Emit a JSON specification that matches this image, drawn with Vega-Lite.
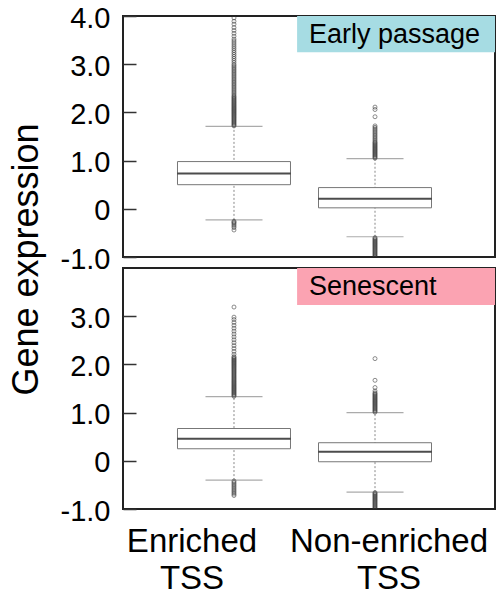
{
  "$schema": "https://vega.github.io/schema/vega-lite/v6.json",
  "padding": {"left": 6, "top": 3, "right": 4, "bottom": 0},
  "background": "white",
  "config": {"view": {"stroke": "#222", "strokeWidth": 2}, "font": "Liberation Sans",
    "axisY": {"offset": -13, "ticks": true, "tickSize": 13, "tickColor": "#333", "tickOpacity": 1, "tickWidth": 1.5, "domain": false, "grid": false, "zindex": 2,
      "labelFont": "Liberation Sans", "labelFontSize": 29, "labelColor": "black", "labelPadding": 13, "labelOffset": 2,
      "labelExpr": "datum.value == 0 ? '0' : (datum.value < 0 ? '-' + format(-datum.value, '.1f') : format(datum.value, '.1f'))",
      "titleFont": "Liberation Sans", "titleFontSize": 36, "titleFontWeight": "normal", "titleColor": "black"}},
  "datasets": {
    "stats": [
      {"panel": "Early passage", "group": "Enriched TSS", "lower": -0.23, "q1": 0.50, "median": 0.73, "q3": 0.98, "upper": 1.71},
      {"panel": "Early passage", "group": "Non-enriched TSS", "lower": -0.58, "q1": 0.02, "median": 0.21, "q3": 0.44, "upper": 1.04},
      {"panel": "Senescent", "group": "Enriched TSS", "lower": -0.40, "q1": 0.25, "median": 0.46, "q3": 0.67, "upper": 1.33},
      {"panel": "Senescent", "group": "Non-enriched TSS", "lower": -0.65, "q1": -0.02, "median": 0.19, "q3": 0.375, "upper": 1.00}
    ],
    "outliers": [
      {"panel": "Early passage", "group": "Enriched TSS", "value": 1.72},{"panel": "Early passage", "group": "Enriched TSS", "value": 1.74},{"panel": "Early passage", "group": "Enriched TSS", "value": 1.76},{"panel": "Early passage", "group": "Enriched TSS", "value": 1.78},{"panel": "Early passage", "group": "Enriched TSS", "value": 1.80},{"panel": "Early passage", "group": "Enriched TSS", "value": 1.82},{"panel": "Early passage", "group": "Enriched TSS", "value": 1.84},{"panel": "Early passage", "group": "Enriched TSS", "value": 1.86},{"panel": "Early passage", "group": "Enriched TSS", "value": 1.88},{"panel": "Early passage", "group": "Enriched TSS", "value": 1.90},{"panel": "Early passage", "group": "Enriched TSS", "value": 1.92},{"panel": "Early passage", "group": "Enriched TSS", "value": 1.94},{"panel": "Early passage", "group": "Enriched TSS", "value": 1.96},{"panel": "Early passage", "group": "Enriched TSS", "value": 1.98},{"panel": "Early passage", "group": "Enriched TSS", "value": 2.00},{"panel": "Early passage", "group": "Enriched TSS", "value": 2.02},{"panel": "Early passage", "group": "Enriched TSS", "value": 2.04},{"panel": "Early passage", "group": "Enriched TSS", "value": 2.06},{"panel": "Early passage", "group": "Enriched TSS", "value": 2.08},{"panel": "Early passage", "group": "Enriched TSS", "value": 2.10},{"panel": "Early passage", "group": "Enriched TSS", "value": 2.12},{"panel": "Early passage", "group": "Enriched TSS", "value": 2.14},{"panel": "Early passage", "group": "Enriched TSS", "value": 2.16},{"panel": "Early passage", "group": "Enriched TSS", "value": 2.18},{"panel": "Early passage", "group": "Enriched TSS", "value": 2.20},{"panel": "Early passage", "group": "Enriched TSS", "value": 2.22},{"panel": "Early passage", "group": "Enriched TSS", "value": 2.24},{"panel": "Early passage", "group": "Enriched TSS", "value": 2.26},{"panel": "Early passage", "group": "Enriched TSS", "value": 2.28},{"panel": "Early passage", "group": "Enriched TSS", "value": 2.30},{"panel": "Early passage", "group": "Enriched TSS", "value": 2.32},{"panel": "Early passage", "group": "Enriched TSS", "value": 2.34},
      {"panel": "Early passage", "group": "Enriched TSS", "value": 2.37},{"panel": "Early passage", "group": "Enriched TSS", "value": 2.40},{"panel": "Early passage", "group": "Enriched TSS", "value": 2.43},{"panel": "Early passage", "group": "Enriched TSS", "value": 2.46},{"panel": "Early passage", "group": "Enriched TSS", "value": 2.49},{"panel": "Early passage", "group": "Enriched TSS", "value": 2.52},{"panel": "Early passage", "group": "Enriched TSS", "value": 2.55},{"panel": "Early passage", "group": "Enriched TSS", "value": 2.58},{"panel": "Early passage", "group": "Enriched TSS", "value": 2.61},{"panel": "Early passage", "group": "Enriched TSS", "value": 2.64},{"panel": "Early passage", "group": "Enriched TSS", "value": 2.67},{"panel": "Early passage", "group": "Enriched TSS", "value": 2.70},{"panel": "Early passage", "group": "Enriched TSS", "value": 2.73},{"panel": "Early passage", "group": "Enriched TSS", "value": 2.76},{"panel": "Early passage", "group": "Enriched TSS", "value": 2.79},{"panel": "Early passage", "group": "Enriched TSS", "value": 2.82},{"panel": "Early passage", "group": "Enriched TSS", "value": 2.85},{"panel": "Early passage", "group": "Enriched TSS", "value": 2.88},{"panel": "Early passage", "group": "Enriched TSS", "value": 2.91},{"panel": "Early passage", "group": "Enriched TSS", "value": 2.94},{"panel": "Early passage", "group": "Enriched TSS", "value": 2.97},{"panel": "Early passage", "group": "Enriched TSS", "value": 3.00},
      {"panel": "Early passage", "group": "Enriched TSS", "value": 3.04},{"panel": "Early passage", "group": "Enriched TSS", "value": 3.08},{"panel": "Early passage", "group": "Enriched TSS", "value": 3.12},{"panel": "Early passage", "group": "Enriched TSS", "value": 3.16},{"panel": "Early passage", "group": "Enriched TSS", "value": 3.20},{"panel": "Early passage", "group": "Enriched TSS", "value": 3.24},{"panel": "Early passage", "group": "Enriched TSS", "value": 3.28},{"panel": "Early passage", "group": "Enriched TSS", "value": 3.32},{"panel": "Early passage", "group": "Enriched TSS", "value": 3.36},{"panel": "Early passage", "group": "Enriched TSS", "value": 3.40},{"panel": "Early passage", "group": "Enriched TSS", "value": 3.44},{"panel": "Early passage", "group": "Enriched TSS", "value": 3.48},{"panel": "Early passage", "group": "Enriched TSS", "value": 3.52},
      {"panel": "Early passage", "group": "Enriched TSS", "value": 3.58},{"panel": "Early passage", "group": "Enriched TSS", "value": 3.64},{"panel": "Early passage", "group": "Enriched TSS", "value": 3.70},{"panel": "Early passage", "group": "Enriched TSS", "value": 3.76},{"panel": "Early passage", "group": "Enriched TSS", "value": 3.83},{"panel": "Early passage", "group": "Enriched TSS", "value": 3.89},{"panel": "Early passage", "group": "Enriched TSS", "value": 3.96},
      {"panel": "Early passage", "group": "Enriched TSS", "value": -0.26},{"panel": "Early passage", "group": "Enriched TSS", "value": -0.28},{"panel": "Early passage", "group": "Enriched TSS", "value": -0.30},{"panel": "Early passage", "group": "Enriched TSS", "value": -0.33},{"panel": "Early passage", "group": "Enriched TSS", "value": -0.36},{"panel": "Early passage", "group": "Enriched TSS", "value": -0.39},{"panel": "Early passage", "group": "Enriched TSS", "value": -0.44},
      {"panel": "Early passage", "group": "Non-enriched TSS", "value": 1.05},{"panel": "Early passage", "group": "Non-enriched TSS", "value": 1.07},{"panel": "Early passage", "group": "Non-enriched TSS", "value": 1.09},{"panel": "Early passage", "group": "Non-enriched TSS", "value": 1.11},{"panel": "Early passage", "group": "Non-enriched TSS", "value": 1.13},{"panel": "Early passage", "group": "Non-enriched TSS", "value": 1.15},{"panel": "Early passage", "group": "Non-enriched TSS", "value": 1.17},{"panel": "Early passage", "group": "Non-enriched TSS", "value": 1.19},{"panel": "Early passage", "group": "Non-enriched TSS", "value": 1.21},{"panel": "Early passage", "group": "Non-enriched TSS", "value": 1.23},{"panel": "Early passage", "group": "Non-enriched TSS", "value": 1.25},{"panel": "Early passage", "group": "Non-enriched TSS", "value": 1.27},{"panel": "Early passage", "group": "Non-enriched TSS", "value": 1.29},{"panel": "Early passage", "group": "Non-enriched TSS", "value": 1.31},{"panel": "Early passage", "group": "Non-enriched TSS", "value": 1.33},{"panel": "Early passage", "group": "Non-enriched TSS", "value": 1.35},{"panel": "Early passage", "group": "Non-enriched TSS", "value": 1.37},{"panel": "Early passage", "group": "Non-enriched TSS", "value": 1.39},
      {"panel": "Early passage", "group": "Non-enriched TSS", "value": 1.42},{"panel": "Early passage", "group": "Non-enriched TSS", "value": 1.45},{"panel": "Early passage", "group": "Non-enriched TSS", "value": 1.48},{"panel": "Early passage", "group": "Non-enriched TSS", "value": 1.51},{"panel": "Early passage", "group": "Non-enriched TSS", "value": 1.54},{"panel": "Early passage", "group": "Non-enriched TSS", "value": 1.57},{"panel": "Early passage", "group": "Non-enriched TSS", "value": 1.60},{"panel": "Early passage", "group": "Non-enriched TSS", "value": 1.63},{"panel": "Early passage", "group": "Non-enriched TSS", "value": 1.66},{"panel": "Early passage", "group": "Non-enriched TSS", "value": 1.69},{"panel": "Early passage", "group": "Non-enriched TSS", "value": 1.72},{"panel": "Early passage", "group": "Non-enriched TSS", "value": 1.91},{"panel": "Early passage", "group": "Non-enriched TSS", "value": 2.06},{"panel": "Early passage", "group": "Non-enriched TSS", "value": 2.11},
      {"panel": "Early passage", "group": "Non-enriched TSS", "value": -0.60},{"panel": "Early passage", "group": "Non-enriched TSS", "value": -0.62},{"panel": "Early passage", "group": "Non-enriched TSS", "value": -0.64},{"panel": "Early passage", "group": "Non-enriched TSS", "value": -0.66},{"panel": "Early passage", "group": "Non-enriched TSS", "value": -0.68},{"panel": "Early passage", "group": "Non-enriched TSS", "value": -0.70},{"panel": "Early passage", "group": "Non-enriched TSS", "value": -0.72},{"panel": "Early passage", "group": "Non-enriched TSS", "value": -0.74},{"panel": "Early passage", "group": "Non-enriched TSS", "value": -0.76},{"panel": "Early passage", "group": "Non-enriched TSS", "value": -0.78},{"panel": "Early passage", "group": "Non-enriched TSS", "value": -0.80},{"panel": "Early passage", "group": "Non-enriched TSS", "value": -0.82},{"panel": "Early passage", "group": "Non-enriched TSS", "value": -0.84},{"panel": "Early passage", "group": "Non-enriched TSS", "value": -0.86},{"panel": "Early passage", "group": "Non-enriched TSS", "value": -0.88},{"panel": "Early passage", "group": "Non-enriched TSS", "value": -0.90},{"panel": "Early passage", "group": "Non-enriched TSS", "value": -0.92},{"panel": "Early passage", "group": "Non-enriched TSS", "value": -0.94},{"panel": "Early passage", "group": "Non-enriched TSS", "value": -0.96},{"panel": "Early passage", "group": "Non-enriched TSS", "value": -0.98},{"panel": "Early passage", "group": "Non-enriched TSS", "value": -1.00},
      {"panel": "Senescent", "group": "Enriched TSS", "value": 1.34},{"panel": "Senescent", "group": "Enriched TSS", "value": 1.36},{"panel": "Senescent", "group": "Enriched TSS", "value": 1.38},{"panel": "Senescent", "group": "Enriched TSS", "value": 1.40},{"panel": "Senescent", "group": "Enriched TSS", "value": 1.42},{"panel": "Senescent", "group": "Enriched TSS", "value": 1.44},{"panel": "Senescent", "group": "Enriched TSS", "value": 1.46},{"panel": "Senescent", "group": "Enriched TSS", "value": 1.48},{"panel": "Senescent", "group": "Enriched TSS", "value": 1.50},{"panel": "Senescent", "group": "Enriched TSS", "value": 1.52},{"panel": "Senescent", "group": "Enriched TSS", "value": 1.54},{"panel": "Senescent", "group": "Enriched TSS", "value": 1.56},{"panel": "Senescent", "group": "Enriched TSS", "value": 1.58},{"panel": "Senescent", "group": "Enriched TSS", "value": 1.60},{"panel": "Senescent", "group": "Enriched TSS", "value": 1.62},{"panel": "Senescent", "group": "Enriched TSS", "value": 1.64},{"panel": "Senescent", "group": "Enriched TSS", "value": 1.66},{"panel": "Senescent", "group": "Enriched TSS", "value": 1.68},{"panel": "Senescent", "group": "Enriched TSS", "value": 1.70},{"panel": "Senescent", "group": "Enriched TSS", "value": 1.72},{"panel": "Senescent", "group": "Enriched TSS", "value": 1.74},{"panel": "Senescent", "group": "Enriched TSS", "value": 1.76},{"panel": "Senescent", "group": "Enriched TSS", "value": 1.78},{"panel": "Senescent", "group": "Enriched TSS", "value": 1.80},{"panel": "Senescent", "group": "Enriched TSS", "value": 1.82},{"panel": "Senescent", "group": "Enriched TSS", "value": 1.84},{"panel": "Senescent", "group": "Enriched TSS", "value": 1.86},{"panel": "Senescent", "group": "Enriched TSS", "value": 1.88},{"panel": "Senescent", "group": "Enriched TSS", "value": 1.90},{"panel": "Senescent", "group": "Enriched TSS", "value": 1.92},{"panel": "Senescent", "group": "Enriched TSS", "value": 1.94},{"panel": "Senescent", "group": "Enriched TSS", "value": 1.96},{"panel": "Senescent", "group": "Enriched TSS", "value": 1.98},{"panel": "Senescent", "group": "Enriched TSS", "value": 2.00},{"panel": "Senescent", "group": "Enriched TSS", "value": 2.02},{"panel": "Senescent", "group": "Enriched TSS", "value": 2.04},{"panel": "Senescent", "group": "Enriched TSS", "value": 2.06},{"panel": "Senescent", "group": "Enriched TSS", "value": 2.08},{"panel": "Senescent", "group": "Enriched TSS", "value": 2.10},{"panel": "Senescent", "group": "Enriched TSS", "value": 2.12},{"panel": "Senescent", "group": "Enriched TSS", "value": 2.14},{"panel": "Senescent", "group": "Enriched TSS", "value": 2.16},
      {"panel": "Senescent", "group": "Enriched TSS", "value": 2.21},{"panel": "Senescent", "group": "Enriched TSS", "value": 2.27},{"panel": "Senescent", "group": "Enriched TSS", "value": 2.33},{"panel": "Senescent", "group": "Enriched TSS", "value": 2.39},{"panel": "Senescent", "group": "Enriched TSS", "value": 2.45},{"panel": "Senescent", "group": "Enriched TSS", "value": 2.51},{"panel": "Senescent", "group": "Enriched TSS", "value": 2.57},{"panel": "Senescent", "group": "Enriched TSS", "value": 2.63},{"panel": "Senescent", "group": "Enriched TSS", "value": 2.69},{"panel": "Senescent", "group": "Enriched TSS", "value": 2.75},{"panel": "Senescent", "group": "Enriched TSS", "value": 2.81},{"panel": "Senescent", "group": "Enriched TSS", "value": 2.87},{"panel": "Senescent", "group": "Enriched TSS", "value": 2.93},{"panel": "Senescent", "group": "Enriched TSS", "value": 2.98},{"panel": "Senescent", "group": "Enriched TSS", "value": 3.19},
      {"panel": "Senescent", "group": "Enriched TSS", "value": -0.42},{"panel": "Senescent", "group": "Enriched TSS", "value": -0.45},{"panel": "Senescent", "group": "Enriched TSS", "value": -0.48},{"panel": "Senescent", "group": "Enriched TSS", "value": -0.51},{"panel": "Senescent", "group": "Enriched TSS", "value": -0.54},{"panel": "Senescent", "group": "Enriched TSS", "value": -0.57},{"panel": "Senescent", "group": "Enriched TSS", "value": -0.60},{"panel": "Senescent", "group": "Enriched TSS", "value": -0.63},{"panel": "Senescent", "group": "Enriched TSS", "value": -0.66},{"panel": "Senescent", "group": "Enriched TSS", "value": -0.69},{"panel": "Senescent", "group": "Enriched TSS", "value": -0.72},
      {"panel": "Senescent", "group": "Non-enriched TSS", "value": 1.01},{"panel": "Senescent", "group": "Non-enriched TSS", "value": 1.03},{"panel": "Senescent", "group": "Non-enriched TSS", "value": 1.05},{"panel": "Senescent", "group": "Non-enriched TSS", "value": 1.07},{"panel": "Senescent", "group": "Non-enriched TSS", "value": 1.09},{"panel": "Senescent", "group": "Non-enriched TSS", "value": 1.11},{"panel": "Senescent", "group": "Non-enriched TSS", "value": 1.13},{"panel": "Senescent", "group": "Non-enriched TSS", "value": 1.15},{"panel": "Senescent", "group": "Non-enriched TSS", "value": 1.17},{"panel": "Senescent", "group": "Non-enriched TSS", "value": 1.19},{"panel": "Senescent", "group": "Non-enriched TSS", "value": 1.21},{"panel": "Senescent", "group": "Non-enriched TSS", "value": 1.23},{"panel": "Senescent", "group": "Non-enriched TSS", "value": 1.25},{"panel": "Senescent", "group": "Non-enriched TSS", "value": 1.27},{"panel": "Senescent", "group": "Non-enriched TSS", "value": 1.29},{"panel": "Senescent", "group": "Non-enriched TSS", "value": 1.31},{"panel": "Senescent", "group": "Non-enriched TSS", "value": 1.33},{"panel": "Senescent", "group": "Non-enriched TSS", "value": 1.35},{"panel": "Senescent", "group": "Non-enriched TSS", "value": 1.37},{"panel": "Senescent", "group": "Non-enriched TSS", "value": 1.39},{"panel": "Senescent", "group": "Non-enriched TSS", "value": 1.41},{"panel": "Senescent", "group": "Non-enriched TSS", "value": 1.45},{"panel": "Senescent", "group": "Non-enriched TSS", "value": 1.52},{"panel": "Senescent", "group": "Non-enriched TSS", "value": 1.67},{"panel": "Senescent", "group": "Non-enriched TSS", "value": 2.12},
      {"panel": "Senescent", "group": "Non-enriched TSS", "value": -0.66},{"panel": "Senescent", "group": "Non-enriched TSS", "value": -0.68},{"panel": "Senescent", "group": "Non-enriched TSS", "value": -0.70},{"panel": "Senescent", "group": "Non-enriched TSS", "value": -0.72},{"panel": "Senescent", "group": "Non-enriched TSS", "value": -0.74},{"panel": "Senescent", "group": "Non-enriched TSS", "value": -0.76},{"panel": "Senescent", "group": "Non-enriched TSS", "value": -0.78},{"panel": "Senescent", "group": "Non-enriched TSS", "value": -0.80},{"panel": "Senescent", "group": "Non-enriched TSS", "value": -0.82},{"panel": "Senescent", "group": "Non-enriched TSS", "value": -0.84},{"panel": "Senescent", "group": "Non-enriched TSS", "value": -0.86},{"panel": "Senescent", "group": "Non-enriched TSS", "value": -0.88},{"panel": "Senescent", "group": "Non-enriched TSS", "value": -0.90},{"panel": "Senescent", "group": "Non-enriched TSS", "value": -0.92},{"panel": "Senescent", "group": "Non-enriched TSS", "value": -0.94},{"panel": "Senescent", "group": "Non-enriched TSS", "value": -0.96},{"panel": "Senescent", "group": "Non-enriched TSS", "value": -0.98},{"panel": "Senescent", "group": "Non-enriched TSS", "value": -1.00}
    ],
    "labels": [{"panel": "Early passage"}, {"panel": "Senescent"}]
  },
  "bounds": "flush",
  "spacing": 11,
  "vconcat": [
    {
      "width": 372, "height": 241,
      "resolve": {"scale": {"x": "independent"}, "axis": {"x": "independent"}},
      "layer": [
        {
          "layer": [
            {"data": {"name": "stats"}, "transform": [{"filter": "datum.panel === 'Early passage'"}],
             "mark": {"type": "rule", "color": "#888", "strokeDash": [2, 2], "strokeWidth": 1},
             "encoding": {"x": {"field": "group", "type": "nominal", "scale": {"type": "band", "domain": ["Enriched TSS", "Non-enriched TSS"], "paddingInner": 0.5, "paddingOuter": 0.569, "align": 0.472}, "axis": null},
               "y": {"field": "lower", "type": "quantitative", "scale": {"domain": [-1, 4], "nice": false, "zero": false},
                 "axis": {"values": [-1, 0, 1, 2, 3, 4], "ticks": true, "tickSize": 13, "tickColor": "#333", "tickWidth": 1.5, "titleX": -99, "titleY": 243, "titleAngle": -90, "titleAlign": "center", "titleBaseline": "alphabetic"},
                 "title": "Gene expression"},
               "y2": {"field": "upper"}}},
            {"data": {"name": "stats"}, "transform": [{"filter": "datum.panel === 'Early passage'"}],
             "mark": {"type": "tick", "color": "#888", "size": 57, "thickness": 1.2},
             "encoding": {"x": {"field": "group", "type": "nominal"}, "y": {"field": "lower", "type": "quantitative"}}},
            {"data": {"name": "stats"}, "transform": [{"filter": "datum.panel === 'Early passage'"}],
             "mark": {"type": "tick", "color": "#888", "size": 57, "thickness": 1.2},
             "encoding": {"x": {"field": "group", "type": "nominal"}, "y": {"field": "upper", "type": "quantitative"}}},
            {"data": {"name": "stats"}, "transform": [{"filter": "datum.panel === 'Early passage'"}],
             "mark": {"type": "bar", "size": 113, "fill": "white", "stroke": "#777", "strokeWidth": 1},
             "encoding": {"x": {"field": "group", "type": "nominal"}, "y": {"field": "q1", "type": "quantitative"}, "y2": {"field": "q3"}}},
            {"data": {"name": "stats"}, "transform": [{"filter": "datum.panel === 'Early passage'"}],
             "mark": {"type": "tick", "color": "black", "size": 113, "thickness": 2},
             "encoding": {"x": {"field": "group", "type": "nominal"}, "y": {"field": "median", "type": "quantitative"}}},
            {"data": {"name": "outliers"}, "transform": [{"filter": "datum.panel === 'Early passage'"}],
             "mark": {"type": "point", "shape": "circle", "filled": false, "size": 16, "stroke": "#333", "strokeWidth": 0.8, "clip": true},
             "encoding": {"x": {"field": "group", "type": "nominal"}, "y": {"field": "value", "type": "quantitative"}}}
          ]
        },
        {
          "data": {"name": "labels"},
          "transform": [{"filter": "datum.panel === 'Early passage'"}],
          "layer": [
            {"mark": {"type": "rect"},
             "encoding": {
               "x": {"datum": 0.468, "type": "quantitative", "scale": {"domain": [0, 1]}, "axis": null},
               "x2": {"datum": 1},
               "y": {"datum": 4, "type": "quantitative"},
               "y2": {"datum": 3.25},
               "color": {"field": "panel", "type": "nominal", "scale": {"domain": ["Early passage", "Senescent"], "range": ["#A6DCE3", "#FBA3B2"]}, "legend": null}}},
            {"mark": {"type": "text", "align": "left", "baseline": "alphabetic", "fontSize": 27, "font": "Liberation Sans", "color": "black"},
             "encoding": {
               "x": {"datum": 0.5, "type": "quantitative", "scale": {"domain": [0, 1]}, "axis": null},
               "y": {"datum": 3.44, "type": "quantitative"},
               "text": {"field": "panel"}}}
          ]
        }
      ]
    },
    {
      "width": 372, "height": 241,
      "resolve": {"scale": {"x": "independent"}, "axis": {"x": "independent"}},
      "layer": [
        {
          "layer": [
            {"data": {"name": "stats"}, "transform": [{"filter": "datum.panel === 'Senescent'"}],
             "mark": {"type": "rule", "color": "#888", "strokeDash": [2, 2], "strokeWidth": 1},
             "encoding": {"x": {"field": "group", "type": "nominal", "scale": {"type": "band", "domain": ["Enriched TSS", "Non-enriched TSS"], "paddingInner": 0.5, "paddingOuter": 0.569, "align": 0.472},
                 "axis": {"title": null, "labelExpr": "split(datum.label, ' ')", "labelFont": "Liberation Sans", "labelFontSize": 33, "labelLineHeight": 37, "labelAngle": 0, "labelColor": "black", "labelLimit": 400,
                   "ticks": false, "domain": false, "grid": false, "labelPadding": 16, "labelBaseline": "top",
                   "labelOffset": {"condition": {"test": "datum.value === 'Enriched TSS'", "value": -42}, "value": 14}}},
               "y": {"field": "lower", "type": "quantitative", "scale": {"domain": [-1, 4], "nice": false, "zero": false},
                 "axis": {"values": [-1, 0, 1, 2, 3], "ticks": true, "tickSize": 13, "tickColor": "#333", "tickWidth": 1.5, "title": null}, "title": null},
               "y2": {"field": "upper"}}},
            {"data": {"name": "stats"}, "transform": [{"filter": "datum.panel === 'Senescent'"}],
             "mark": {"type": "tick", "color": "#888", "size": 57, "thickness": 1.2},
             "encoding": {"x": {"field": "group", "type": "nominal"}, "y": {"field": "lower", "type": "quantitative"}}},
            {"data": {"name": "stats"}, "transform": [{"filter": "datum.panel === 'Senescent'"}],
             "mark": {"type": "tick", "color": "#888", "size": 57, "thickness": 1.2},
             "encoding": {"x": {"field": "group", "type": "nominal"}, "y": {"field": "upper", "type": "quantitative"}}},
            {"data": {"name": "stats"}, "transform": [{"filter": "datum.panel === 'Senescent'"}],
             "mark": {"type": "bar", "size": 113, "fill": "white", "stroke": "#777", "strokeWidth": 1},
             "encoding": {"x": {"field": "group", "type": "nominal"}, "y": {"field": "q1", "type": "quantitative"}, "y2": {"field": "q3"}}},
            {"data": {"name": "stats"}, "transform": [{"filter": "datum.panel === 'Senescent'"}],
             "mark": {"type": "tick", "color": "black", "size": 113, "thickness": 2},
             "encoding": {"x": {"field": "group", "type": "nominal"}, "y": {"field": "median", "type": "quantitative"}}},
            {"data": {"name": "outliers"}, "transform": [{"filter": "datum.panel === 'Senescent'"}],
             "mark": {"type": "point", "shape": "circle", "filled": false, "size": 16, "stroke": "#333", "strokeWidth": 0.8, "clip": true},
             "encoding": {"x": {"field": "group", "type": "nominal"}, "y": {"field": "value", "type": "quantitative"}}}
          ]
        },
        {
          "data": {"name": "labels"},
          "transform": [{"filter": "datum.panel === 'Senescent'"}],
          "layer": [
            {"mark": {"type": "rect"},
             "encoding": {
               "x": {"datum": 0.468, "type": "quantitative", "scale": {"domain": [0, 1]}, "axis": null},
               "x2": {"datum": 1},
               "y": {"datum": 4, "type": "quantitative"},
               "y2": {"datum": 3.23},
               "color": {"field": "panel", "type": "nominal", "scale": {"domain": ["Early passage", "Senescent"], "range": ["#A6DCE3", "#FBA3B2"]}, "legend": null}}},
            {"mark": {"type": "text", "align": "left", "baseline": "alphabetic", "fontSize": 27, "font": "Liberation Sans", "color": "black"},
             "encoding": {
               "x": {"datum": 0.5, "type": "quantitative", "scale": {"domain": [0, 1]}, "axis": null},
               "y": {"datum": 3.44, "type": "quantitative"},
               "text": {"field": "panel"}}}
          ]
        }
      ]
    }
  ]
}
